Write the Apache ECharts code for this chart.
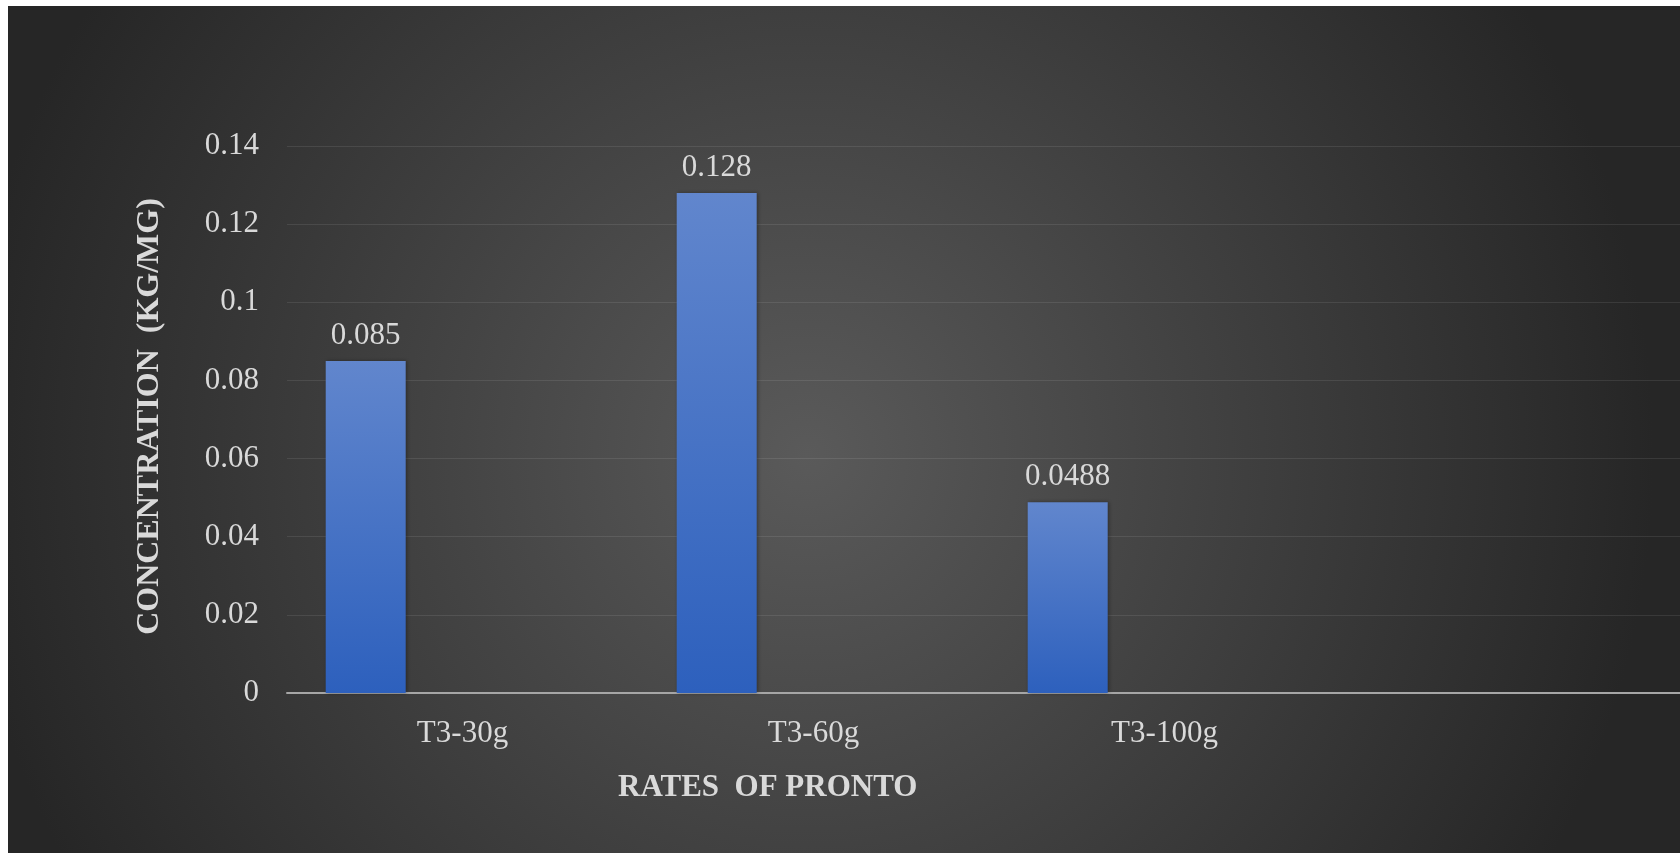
<!DOCTYPE html>
<html>
<head>
<meta charset="utf-8">
<script src="https://cdn.jsdelivr.net/npm/echarts@6/dist/echarts.min.js"></script>
<style>
  html, body { margin: 0; padding: 0; background: #ffffff; overflow: hidden; width: 1680px; height: 853px; }
  #chart { position: absolute; left: 8px; top: 6px; width: 1700px; height: 847px; }
</style>
</head>
<body>
<div id="chart"></div>
<script>
// ---- data ----
const categories = ['T3-30g', 'T3-60g', 'T3-100g', ''];
const concentration = [0.085, 0.128, 0.0488, null];
const emptySeries = [null, null, null, null];
const yMin = 0;
const yMax = 0.14;
const yStep = 0.02;
const yTitle = 'CONCENTRATION  (KG/MG)';
const xTitle = 'RATES  OF PRONTO';

const serif = '"Liberation Serif", "Times New Roman", serif';
const textColor = '#d9d9d9';

const chart = echarts.init(document.getElementById('chart'));
chart.setOption({
  backgroundColor: new echarts.graphic.RadialGradient(0.47, 0.53, 1.0, [
    { offset: 0, color: '#5a5a5a' },
    { offset: 1, color: '#262626' }
  ]),
  animation: false,
  title: {
    text: xTitle,
    left: 605,
    top: 761,
    textStyle: { color: textColor, fontFamily: serif, fontSize: 31, fontWeight: 'bold' }
  },
  grid: { left: 279, top: 140, right: 17, bottom: 160, containLabel: false },
  xAxis: {
    type: 'category',
    data: categories,
    axisTick: { show: false },
    axisLine: { lineStyle: { color: '#a6a6a6', width: 2 } },
    axisLabel: { color: textColor, fontFamily: serif, fontSize: 31, margin: 25 },
    splitLine: { show: false }
  },
  yAxis: {
    type: 'value',
    min: yMin,
    max: yMax,
    interval: yStep,
    name: yTitle,
    nameLocation: 'middle',
    nameGap: 121,
    nameRotate: 90,
    nameTextStyle: { color: textColor, fontFamily: serif, fontSize: 32, fontWeight: 'bold', padding: [0, 0, 0, 6] },
    axisLine: { show: false },
    axisTick: { show: false },
    axisLabel: { color: textColor, fontFamily: serif, fontSize: 31, margin: 28 },
    splitLine: { lineStyle: { color: 'rgba(255,255,255,0.09)', width: 1 } }
  },
  series: [
    {
      type: 'bar',
      data: concentration,
      barWidth: 80,
      barGap: '142%',
      itemStyle: {
        color: new echarts.graphic.LinearGradient(0, 0, 0, 1, [
          { offset: 0, color: '#6186cd' },
          { offset: 1, color: '#2d60bd' }
        ]),
        shadowColor: 'rgba(0,0,0,0.35)',
        shadowBlur: 4,
        shadowOffsetX: 1.5
      },
      label: {
        show: true,
        position: 'top',
        distance: 10,
        color: textColor,
        fontFamily: serif,
        fontSize: 31
      }
    },
    {
      type: 'bar',
      data: emptySeries,
      barWidth: 80,
      barGap: '142%'
    }
  ]
});
</script>
</body>
</html>
